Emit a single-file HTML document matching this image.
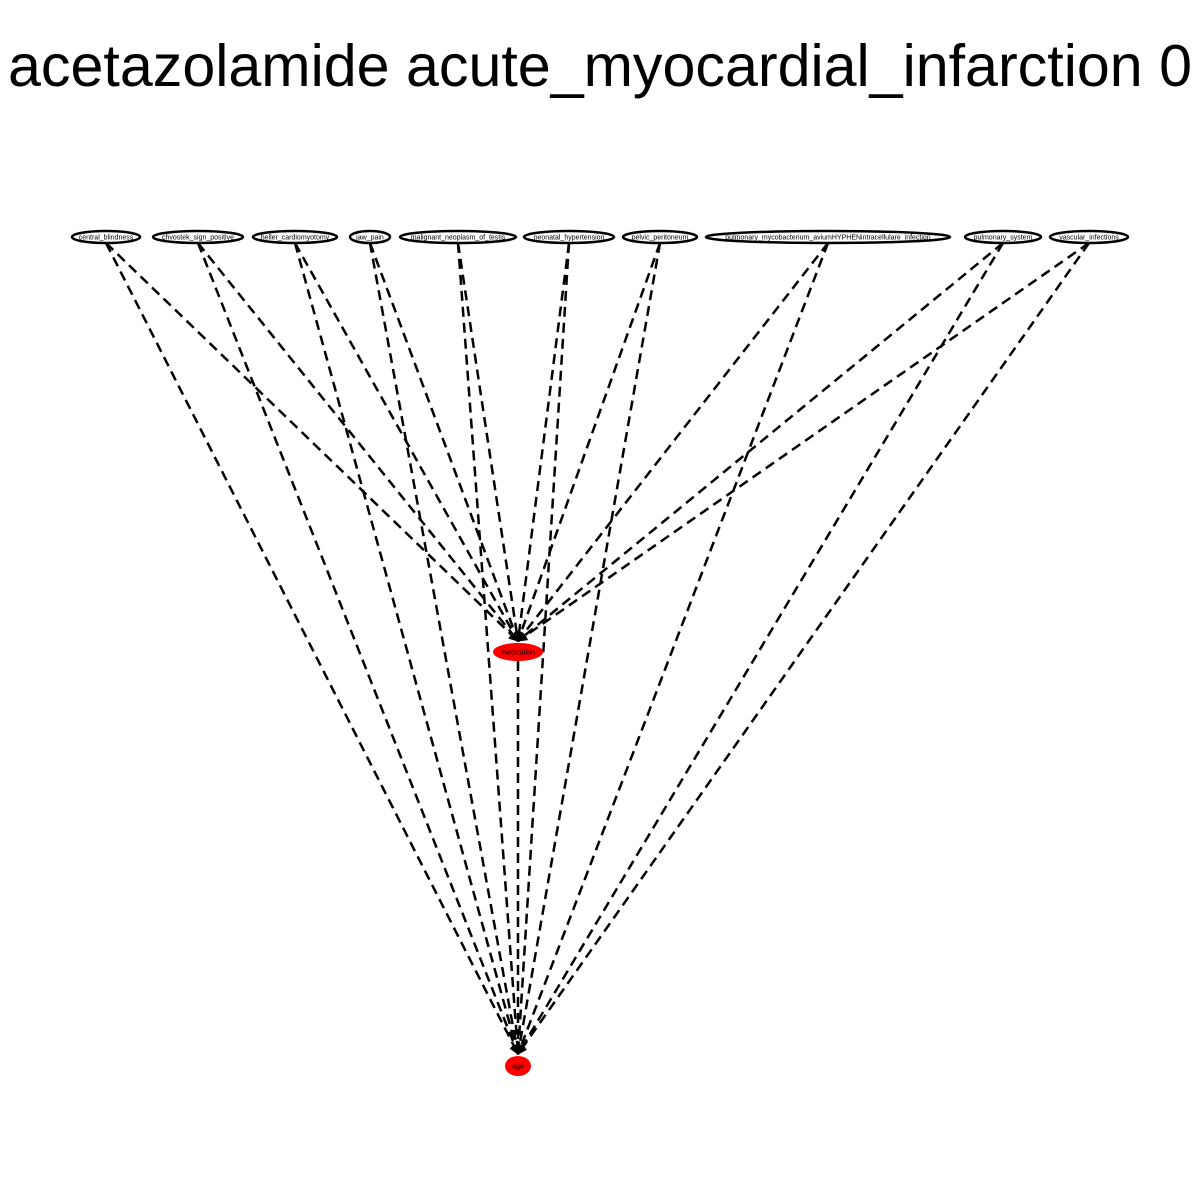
<!DOCTYPE html>
<html><head><meta charset="utf-8"><style>
html,body{margin:0;padding:0;background:#fff;}
svg{display:block;}
</style></head><body>
<svg id="g" width="1200" height="1200" xmlns="http://www.w3.org/2000/svg">
<text x="600" y="86" text-anchor="middle" font-family="Liberation Sans, sans-serif" font-size="59" textLength="1184" lengthAdjust="spacingAndGlyphs">acetazolamide acute_myocardial_infarction 0</text>
<defs><marker id="ah" markerWidth="4" markerHeight="4" refX="3.5" refY="2" orient="auto" markerUnits="strokeWidth"><path d="M0,0 L4,2 L0,4 z" fill="#000"/></marker></defs>
<g id="edges"></g><g id="nodes"></g>
</svg>
<script>
const topNames = ["central_blindness","chvostek_sign_positive","heller_cardiomyotomy","jaw_pain","malignant_neoplasm_of_testis","neonatal_hypertension","pelvic_peritoneum","pulmonary_mycobacterium_aviumHYPHENintracellulare_infection","pulmonary_system","vascular_infections"];
const topX = [106,198,295,370,458,569,660,828,1003,1089];
const topRx = [34,45,42,20,58,45,37,122,38,39];
const topY = 237;
const targets = [{name:"medication",x:518,y:652,rx:25,ry:9},{name:"age",x:518,y:1066,rx:13,ry:10}];
const NS="http://www.w3.org/2000/svg";
const E=document.getElementById('edges'), N=document.getElementById('nodes');
function edge(x1,y1,x2,y2,nm){
  const l=document.createElementNS(NS,'line');
  l.setAttribute('x1',x1);l.setAttribute('y1',y1);l.setAttribute('x2',x2);l.setAttribute('y2',y2);
  l.setAttribute('stroke','#000');l.setAttribute('stroke-width','2.5');l.setAttribute('stroke-dasharray','10,6');
  l.setAttribute('marker-end','url(#ah)');
  
  
  E.appendChild(l);
}
topNames.forEach((n,i)=>{
  targets.forEach(t=>{
    edge(topX[i],topY+6,t.x,t.y-t.ry-2,'edge-'+n.replace(/_/g,'-')+'-to-'+t.name);
  });
});
edge(targets[0].x,targets[0].y+targets[0].ry,targets[1].x,targets[1].y-targets[1].ry-2,'edge-medication-to-age');
function node(x,y,rx,ry,fill,sw,label,fs){
  const g=document.createElementNS(NS,'g');
  
  
  const e=document.createElementNS(NS,'ellipse');
  e.setAttribute('cx',x);e.setAttribute('cy',y);e.setAttribute('rx',rx);e.setAttribute('ry',ry);
  e.setAttribute('fill',fill);e.setAttribute('stroke',sw?'#000':'none');e.setAttribute('stroke-width',sw);
  g.appendChild(e);
  const t=document.createElementNS(NS,'text');
  t.setAttribute('x',x);t.setAttribute('y',y+2.5);t.setAttribute('text-anchor','middle');
  t.setAttribute('font-family','Liberation Sans, sans-serif');t.setAttribute('font-size',fs);
  t.textContent=label;
  g.appendChild(t);
  N.appendChild(g);
}
topNames.forEach((n,i)=>node(topX[i],topY,topRx[i],6,'#fff',2.5,n,7));
targets.forEach(t=>node(t.x,t.y,t.rx,t.ry,'#ff0000',0,t.name,7));
</script>
</body></html>
